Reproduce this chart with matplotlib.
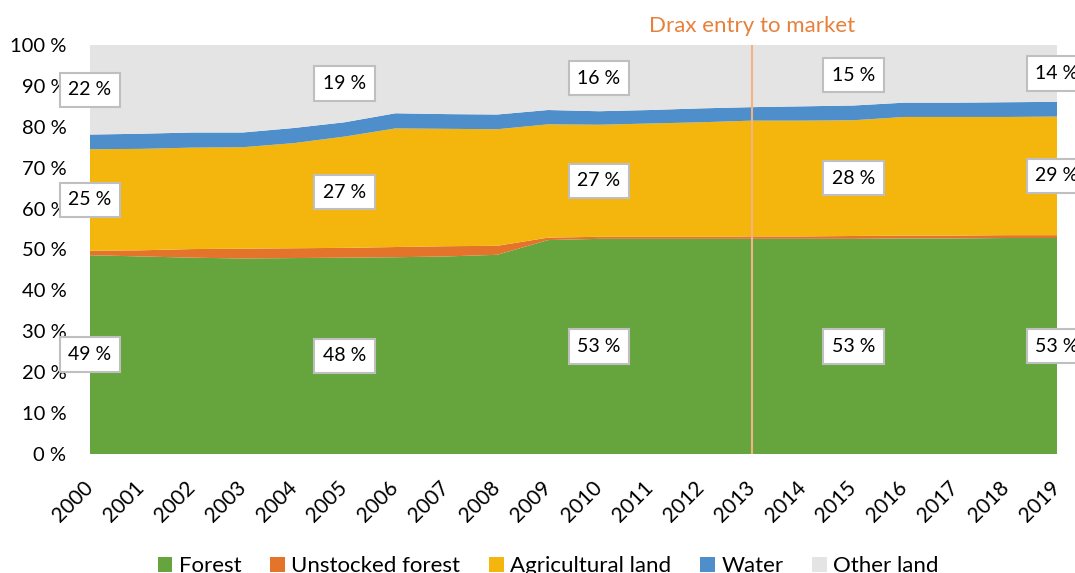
import matplotlib
matplotlib.use("Agg")
import matplotlib.pyplot as plt
import numpy as np

plt.rcParams['font.family'] = ['Lato', 'DejaVu Sans']

years = list(range(2000, 2020))
forest = [48.6, 48.3, 48.0, 47.8, 47.9, 48.0, 48.1, 48.3, 48.7, 52.3,
          52.6, 52.6, 52.6, 52.6, 52.6, 52.6, 52.7, 52.7, 52.8, 52.8]
unstocked = [1.1, 1.5, 2.1, 2.4, 2.4, 2.4, 2.5, 2.5, 2.2, 0.6,
             0.5, 0.5, 0.5, 0.6, 0.6, 0.7, 0.7, 0.7, 0.7, 0.7]
agri = [24.8, 24.8, 24.8, 24.8, 25.7, 27.2, 29.0, 28.7, 28.5, 27.7,
        27.4, 27.7, 28.0, 28.3, 28.3, 28.3, 29.0, 29.0, 28.9, 29.0]
water = [3.6, 3.7, 3.7, 3.6, 3.7, 3.5, 3.7, 3.6, 3.6, 3.5,
         3.3, 3.3, 3.4, 3.3, 3.5, 3.6, 3.5, 3.5, 3.6, 3.6]
other = [100 - f - u - a - w for f, u, a, w in zip(forest, unstocked, agri, water)]

names = ["Forest", "Unstocked forest", "Agricultural land", "Water", "Other land"]
colors = ["#66A43E", "#E47429", "#F4B60C", "#4E8FCB", "#E4E4E4"]
label_years = [2000, 2005, 2010, 2015, 2019]
labelled = [0, 2, 4]  # series that get data labels

fig = plt.figure(figsize=(10.75, 5.73), dpi=100)
ax = fig.add_axes([0.0837, 0.2077, 0.8996, 0.7138])

series = [forest, unstocked, agri, water, other]
ax.stackplot(years, *series, colors=colors, labels=names, linewidth=0)

ax.set_xlim(2000, 2019)
ax.set_ylim(0, 100)
ax.set_yticks(range(0, 101, 10))
ax.set_yticklabels([f"{v} %" for v in range(0, 101, 10)])
ax.set_xticks(years)
ax.set_xticklabels([str(y) for y in years], rotation=45, ha='right',
                   va='center', rotation_mode='anchor')
ax.tick_params(axis='y', length=0, pad=17, labelsize=14.5)
ax.tick_params(axis='x', length=0, pad=22, labelsize=15)
for s in ax.spines.values():
    s.set_visible(False)

# data labels in the middle of each layer
cum = np.cumsum(np.array(series), axis=0)
for si in labelled:
    for y in label_years:
        i = years.index(y)
        top = cum[si][i]
        bottom = cum[si - 1][i] if si > 0 else 0
        ax.text(y, (top + bottom) / 2, f"{round(series[si][i])} %", ha='center', va='center',
                fontsize=14, zorder=10, clip_on=False,
                bbox=dict(boxstyle='square,pad=0.45', fc='white', ec='#BFBFBF', lw=1.5))

ax.axvline(2013, color='#F4B183', lw=1.5, zorder=5)
ax.text(2013, 104.6, "Drax entry to market", color='#E7803A', fontsize=16,
        ha='center', va='center', clip_on=False)

ax.legend(loc='center', bbox_to_anchor=(0.51, 0.012), bbox_transform=fig.transFigure,
          ncol=5, frameon=False, fontsize=16, handlelength=0.65, handleheight=0.65,
          handletextpad=0.3, columnspacing=1.3)

fig.savefig("out.png", dpi=100)
